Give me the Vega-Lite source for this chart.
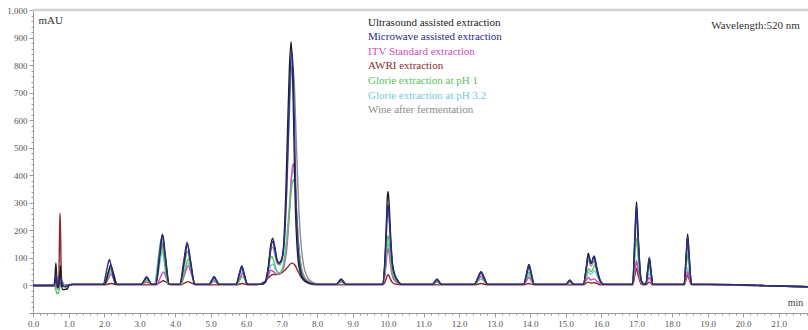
{
"$schema": "https://vega.github.io/schema/vega-lite/v6.json",
"width": 775, "height": 303,
"autosize": {"type": "none"},
"padding": {"left": 33, "top": 10, "right": 0, "bottom": 17},
"background": "white",
"config": {"view": {"stroke": null}},
"datasets": {
"chrom": [
{"k":"W","t":0,"v":0},{"k":"W","t":0.58,"v":0},{"k":"W","t":0.64,"v":15},{"k":"W","t":0.7,"v":0},{"k":"W","t":0.78,"v":12},{"k":"W","t":0.85,"v":0},{"k":"W","t":1.0,"v":2},{"k":"W","t":1.1,"v":4},
{"k":"W","t":1.995,"v":4},{"k":"W","t":2.1,"v":40},{"k":"W","t":2.17,"v":64},{"k":"W","t":2.24,"v":40},{"k":"W","t":2.345,"v":4},
{"k":"W","t":3.05,"v":4},{"k":"W","t":3.14,"v":17},{"k":"W","t":3.2,"v":26},{"k":"W","t":3.26,"v":17},{"k":"W","t":3.35,"v":4},
{"k":"W","t":3.46,"v":4},{"k":"W","t":3.575,"v":94},{"k":"W","t":3.65,"v":154},{"k":"W","t":3.725,"v":94},{"k":"W","t":3.84,"v":4},
{"k":"W","t":4.14,"v":4},{"k":"W","t":4.265,"v":76},{"k":"W","t":4.35,"v":124},{"k":"W","t":4.435,"v":76},{"k":"W","t":4.56,"v":4},
{"k":"W","t":4.96,"v":4},{"k":"W","t":5.045,"v":17},{"k":"W","t":5.1,"v":26},{"k":"W","t":5.155,"v":17},{"k":"W","t":5.24,"v":4},
{"k":"W","t":5.72,"v":4},{"k":"W","t":5.815,"v":37},{"k":"W","t":5.88,"v":59},{"k":"W","t":5.945,"v":37},{"k":"W","t":6.04,"v":4},
{"k":"W","t":6.45,"v":4},{"k":"W","t":6.55,"v":14},{"k":"W","t":6.63,"v":65},{"k":"W","t":6.69,"v":120},{"k":"W","t":6.75,"v":140},{"k":"W","t":6.81,"v":115},{"k":"W","t":6.88,"v":80},{"k":"W","t":6.95,"v":75},{"k":"W","t":7.02,"v":95},{"k":"W","t":7.09,"v":180},{"k":"W","t":7.16,"v":390},{"k":"W","t":7.22,"v":620},{"k":"W","t":7.27,"v":770},{"k":"W","t":7.31,"v":800},{"k":"W","t":7.36,"v":730},{"k":"W","t":7.41,"v":550},{"k":"W","t":7.47,"v":330},{"k":"W","t":7.54,"v":165},{"k":"W","t":7.62,"v":75},{"k":"W","t":7.72,"v":32},{"k":"W","t":7.87,"v":12},{"k":"W","t":8.05,"v":4},
{"k":"W","t":8.54,"v":4},{"k":"W","t":8.625,"v":13},{"k":"W","t":8.68,"v":19},{"k":"W","t":8.735,"v":13},{"k":"W","t":8.82,"v":4},
{"k":"W","t":9.84,"v":4},{"k":"W","t":9.91,"v":72},{"k":"W","t":9.95,"v":171},{"k":"W","t":9.98,"v":255},{"k":"W","t":10.0,"v":274},{"k":"W","t":10.03,"v":242},{"k":"W","t":10.07,"v":153},{"k":"W","t":10.12,"v":72},{"k":"W","t":10.18,"v":36},{"k":"W","t":10.26,"v":18},{"k":"W","t":10.38,"v":4},
{"k":"W","t":11.255,"v":4},{"k":"W","t":11.33,"v":13},{"k":"W","t":11.38,"v":19},{"k":"W","t":11.43,"v":13},{"k":"W","t":11.505,"v":4},
{"k":"W","t":12.43,"v":4},{"k":"W","t":12.545,"v":28},{"k":"W","t":12.62,"v":44},{"k":"W","t":12.695,"v":28},{"k":"W","t":12.81,"v":4},
{"k":"W","t":13.82,"v":4},{"k":"W","t":13.91,"v":40},{"k":"W","t":13.97,"v":64},{"k":"W","t":14.03,"v":40},{"k":"W","t":14.12,"v":4},
{"k":"W","t":15.01,"v":4},{"k":"W","t":15.075,"v":11},{"k":"W","t":15.12,"v":16},{"k":"W","t":15.165,"v":11},{"k":"W","t":15.23,"v":4},
{"k":"W","t":15.5,"v":4},{"k":"W","t":15.59,"v":58},{"k":"W","t":15.64,"v":94},{"k":"W","t":15.72,"v":70},{"k":"W","t":15.81,"v":89},{"k":"W","t":15.88,"v":55},{"k":"W","t":15.98,"v":16},{"k":"W","t":16.08,"v":4},
{"k":"W","t":16.89,"v":4},{"k":"W","t":16.955,"v":154},{"k":"W","t":17.0,"v":254},{"k":"W","t":17.045,"v":154},{"k":"W","t":17.13,"v":17},{"k":"W","t":17.2,"v":6},
{"k":"W","t":17.26,"v":4},{"k":"W","t":17.32,"v":52},{"k":"W","t":17.36,"v":84},{"k":"W","t":17.4,"v":52},{"k":"W","t":17.46,"v":4},
{"k":"W","t":18.34,"v":4},{"k":"W","t":18.4,"v":94},{"k":"W","t":18.44,"v":154},{"k":"W","t":18.48,"v":94},{"k":"W","t":18.55,"v":4},
{"k":"W","t":19.0,"v":4},{"k":"W","t":19.8,"v":3},{"k":"W","t":20.5,"v":0},{"k":"W","t":21.2,"v":-3},{"k":"W","t":21.85,"v":-5},

{"k":"G3","t":0,"v":0},{"k":"G3","t":0.58,"v":0},{"k":"G3","t":0.65,"v":-5},{"k":"G3","t":0.7,"v":-15},{"k":"G3","t":0.76,"v":0},{"k":"G3","t":0.82,"v":8},{"k":"G3","t":0.9,"v":0},{"k":"G3","t":1.0,"v":2},{"k":"G3","t":1.1,"v":4},
{"k":"G3","t":2.005,"v":4},{"k":"G3","t":2.11,"v":31},{"k":"G3","t":2.18,"v":49},{"k":"G3","t":2.25,"v":31},{"k":"G3","t":2.355,"v":4},
{"k":"G3","t":3.05,"v":4},{"k":"G3","t":3.14,"v":13},{"k":"G3","t":3.2,"v":19},{"k":"G3","t":3.26,"v":13},{"k":"G3","t":3.35,"v":4},
{"k":"G3","t":3.45,"v":4},{"k":"G3","t":3.565,"v":76},{"k":"G3","t":3.64,"v":124},{"k":"G3","t":3.715,"v":76},{"k":"G3","t":3.83,"v":4},
{"k":"G3","t":4.15,"v":4},{"k":"G3","t":4.275,"v":51},{"k":"G3","t":4.36,"v":82},{"k":"G3","t":4.445,"v":51},{"k":"G3","t":4.57,"v":4},
{"k":"G3","t":4.96,"v":4},{"k":"G3","t":5.045,"v":13},{"k":"G3","t":5.1,"v":19},{"k":"G3","t":5.155,"v":13},{"k":"G3","t":5.24,"v":4},
{"k":"G3","t":5.73,"v":4},{"k":"G3","t":5.825,"v":31},{"k":"G3","t":5.89,"v":49},{"k":"G3","t":5.955,"v":31},{"k":"G3","t":6.05,"v":4},
{"k":"G3","t":6.45,"v":4},{"k":"G3","t":6.55,"v":14},{"k":"G3","t":6.63,"v":45},{"k":"G3","t":6.7,"v":72},{"k":"G3","t":6.76,"v":78},{"k":"G3","t":6.83,"v":58},{"k":"G3","t":6.92,"v":45},{"k":"G3","t":7.02,"v":60},{"k":"G3","t":7.12,"v":140},{"k":"G3","t":7.21,"v":270},{"k":"G3","t":7.28,"v":390},{"k":"G3","t":7.33,"v":420},{"k":"G3","t":7.37,"v":388},{"k":"G3","t":7.42,"v":270},{"k":"G3","t":7.48,"v":140},{"k":"G3","t":7.55,"v":65},{"k":"G3","t":7.63,"v":30},{"k":"G3","t":7.75,"v":12},{"k":"G3","t":7.95,"v":4},
{"k":"G3","t":8.54,"v":4},{"k":"G3","t":8.625,"v":10},{"k":"G3","t":8.68,"v":14},{"k":"G3","t":8.735,"v":10},{"k":"G3","t":8.82,"v":4},
{"k":"G3","t":9.84,"v":4},{"k":"G3","t":9.91,"v":42},{"k":"G3","t":9.95,"v":97},{"k":"G3","t":9.98,"v":144},{"k":"G3","t":10.0,"v":154},{"k":"G3","t":10.03,"v":136},{"k":"G3","t":10.07,"v":87},{"k":"G3","t":10.12,"v":42},{"k":"G3","t":10.18,"v":22},{"k":"G3","t":10.26,"v":12},{"k":"G3","t":10.38,"v":4},
{"k":"G3","t":11.255,"v":4},{"k":"G3","t":11.33,"v":11},{"k":"G3","t":11.38,"v":16},{"k":"G3","t":11.43,"v":11},{"k":"G3","t":11.505,"v":4},
{"k":"G3","t":12.43,"v":4},{"k":"G3","t":12.545,"v":22},{"k":"G3","t":12.62,"v":34},{"k":"G3","t":12.695,"v":22},{"k":"G3","t":12.81,"v":4},
{"k":"G3","t":13.82,"v":4},{"k":"G3","t":13.91,"v":25},{"k":"G3","t":13.97,"v":39},{"k":"G3","t":14.03,"v":25},{"k":"G3","t":14.12,"v":4},
{"k":"G3","t":15.01,"v":4},{"k":"G3","t":15.075,"v":9},{"k":"G3","t":15.12,"v":12},{"k":"G3","t":15.165,"v":9},{"k":"G3","t":15.23,"v":4},
{"k":"G3","t":15.5,"v":4},{"k":"G3","t":15.59,"v":31},{"k":"G3","t":15.64,"v":49},{"k":"G3","t":15.72,"v":40},{"k":"G3","t":15.82,"v":54},{"k":"G3","t":15.89,"v":34},{"k":"G3","t":15.99,"v":10},{"k":"G3","t":16.08,"v":4},
{"k":"G3","t":16.89,"v":4},{"k":"G3","t":16.955,"v":52},{"k":"G3","t":17.0,"v":84},{"k":"G3","t":17.045,"v":52},{"k":"G3","t":17.13,"v":9},{"k":"G3","t":17.2,"v":5},
{"k":"G3","t":17.26,"v":4},{"k":"G3","t":17.32,"v":28},{"k":"G3","t":17.36,"v":44},{"k":"G3","t":17.4,"v":28},{"k":"G3","t":17.46,"v":4},
{"k":"G3","t":18.34,"v":4},{"k":"G3","t":18.4,"v":40},{"k":"G3","t":18.44,"v":64},{"k":"G3","t":18.48,"v":40},{"k":"G3","t":18.55,"v":4},
{"k":"G3","t":19.0,"v":4},{"k":"G3","t":19.8,"v":3},{"k":"G3","t":20.5,"v":0},{"k":"G3","t":21.2,"v":-3},{"k":"G3","t":21.85,"v":-5},

{"k":"A","t":0,"v":0},{"k":"A","t":0.7,"v":0},{"k":"A","t":0.73,"v":40},{"k":"A","t":0.75,"v":200},{"k":"A","t":0.762,"v":262},{"k":"A","t":0.775,"v":200},{"k":"A","t":0.8,"v":30},{"k":"A","t":0.83,"v":-3},{"k":"A","t":0.88,"v":0},{"k":"A","t":1.0,"v":1},{"k":"A","t":1.1,"v":2},
{"k":"A","t":2.0,"v":2},{"k":"A","t":2.2,"v":7},{"k":"A","t":2.4,"v":2},
{"k":"A","t":3.45,"v":2},{"k":"A","t":3.58,"v":11},{"k":"A","t":3.67,"v":17},{"k":"A","t":3.76,"v":11},{"k":"A","t":3.9,"v":2},
{"k":"A","t":4.15,"v":2},{"k":"A","t":4.28,"v":9},{"k":"A","t":4.37,"v":14},{"k":"A","t":4.46,"v":9},{"k":"A","t":4.6,"v":2},
{"k":"A","t":5.72,"v":2},{"k":"A","t":5.9,"v":7},{"k":"A","t":6.08,"v":2},
{"k":"A","t":6.3,"v":2},{"k":"A","t":6.5,"v":12},{"k":"A","t":6.65,"v":30},{"k":"A","t":6.75,"v":40},{"k":"A","t":6.85,"v":40},{"k":"A","t":6.95,"v":42},{"k":"A","t":7.05,"v":50},{"k":"A","t":7.15,"v":63},{"k":"A","t":7.25,"v":78},{"k":"A","t":7.3,"v":81},{"k":"A","t":7.37,"v":75},{"k":"A","t":7.45,"v":55},{"k":"A","t":7.55,"v":30},{"k":"A","t":7.65,"v":15},{"k":"A","t":7.8,"v":6},{"k":"A","t":8.0,"v":2},
{"k":"A","t":9.84,"v":2},{"k":"A","t":9.91,"v":11},{"k":"A","t":9.95,"v":25},{"k":"A","t":9.98,"v":36},{"k":"A","t":10.0,"v":39},{"k":"A","t":10.03,"v":35},{"k":"A","t":10.07,"v":22},{"k":"A","t":10.12,"v":11},{"k":"A","t":10.18,"v":6},{"k":"A","t":10.26,"v":4},{"k":"A","t":10.38,"v":2},
{"k":"A","t":12.43,"v":2},{"k":"A","t":12.62,"v":7},{"k":"A","t":12.81,"v":2},
{"k":"A","t":13.82,"v":2},{"k":"A","t":13.97,"v":7},{"k":"A","t":14.12,"v":2},
{"k":"A","t":15.5,"v":2},{"k":"A","t":15.64,"v":12},{"k":"A","t":15.72,"v":9},{"k":"A","t":15.81,"v":10},{"k":"A","t":16.0,"v":2},
{"k":"A","t":16.89,"v":2},{"k":"A","t":16.955,"v":38},{"k":"A","t":17.0,"v":62},{"k":"A","t":17.045,"v":38},{"k":"A","t":17.13,"v":5},{"k":"A","t":17.2,"v":2},
{"k":"A","t":17.26,"v":2},{"k":"A","t":17.36,"v":12},{"k":"A","t":17.46,"v":2},
{"k":"A","t":18.34,"v":2},{"k":"A","t":18.4,"v":23},{"k":"A","t":18.44,"v":37},{"k":"A","t":18.48,"v":23},{"k":"A","t":18.55,"v":2},
{"k":"A","t":19.0,"v":2},{"k":"A","t":20.5,"v":-1},{"k":"A","t":21.85,"v":-5},

{"k":"I","t":0,"v":0},{"k":"I","t":0.58,"v":0},{"k":"I","t":0.66,"v":-5},{"k":"I","t":0.7,"v":-10},{"k":"I","t":0.76,"v":5},{"k":"I","t":0.8,"v":10},{"k":"I","t":0.86,"v":0},{"k":"I","t":1.0,"v":2},{"k":"I","t":1.1,"v":4},
{"k":"I","t":2.025,"v":4},{"k":"I","t":2.13,"v":27},{"k":"I","t":2.2,"v":42},{"k":"I","t":2.27,"v":27},{"k":"I","t":2.375,"v":4},
{"k":"I","t":3.05,"v":4},{"k":"I","t":3.14,"v":9},{"k":"I","t":3.2,"v":12},{"k":"I","t":3.26,"v":9},{"k":"I","t":3.35,"v":4},
{"k":"I","t":3.48,"v":4},{"k":"I","t":3.595,"v":31},{"k":"I","t":3.67,"v":49},{"k":"I","t":3.745,"v":31},{"k":"I","t":3.86,"v":4},
{"k":"I","t":4.16,"v":4},{"k":"I","t":4.285,"v":45},{"k":"I","t":4.37,"v":72},{"k":"I","t":4.455,"v":45},{"k":"I","t":4.58,"v":4},
{"k":"I","t":4.96,"v":4},{"k":"I","t":5.045,"v":11},{"k":"I","t":5.1,"v":16},{"k":"I","t":5.155,"v":11},{"k":"I","t":5.24,"v":4},
{"k":"I","t":5.74,"v":4},{"k":"I","t":5.835,"v":28},{"k":"I","t":5.9,"v":44},{"k":"I","t":5.965,"v":28},{"k":"I","t":6.06,"v":4},
{"k":"I","t":6.45,"v":4},{"k":"I","t":6.55,"v":12},{"k":"I","t":6.63,"v":35},{"k":"I","t":6.7,"v":55},{"k":"I","t":6.78,"v":50},{"k":"I","t":6.88,"v":40},{"k":"I","t":6.97,"v":44},{"k":"I","t":7.07,"v":70},{"k":"I","t":7.16,"v":150},{"k":"I","t":7.23,"v":280},{"k":"I","t":7.29,"v":410},{"k":"I","t":7.33,"v":443},{"k":"I","t":7.37,"v":405},{"k":"I","t":7.42,"v":285},{"k":"I","t":7.48,"v":150},{"k":"I","t":7.55,"v":70},{"k":"I","t":7.63,"v":35},{"k":"I","t":7.75,"v":15},{"k":"I","t":7.95,"v":4},
{"k":"I","t":8.54,"v":4},{"k":"I","t":8.625,"v":9},{"k":"I","t":8.68,"v":12},{"k":"I","t":8.735,"v":9},{"k":"I","t":8.82,"v":4},
{"k":"I","t":9.84,"v":4},{"k":"I","t":9.91,"v":36},{"k":"I","t":9.95,"v":84},{"k":"I","t":9.98,"v":124},{"k":"I","t":10.0,"v":133},{"k":"I","t":10.03,"v":118},{"k":"I","t":10.07,"v":75},{"k":"I","t":10.12,"v":36},{"k":"I","t":10.18,"v":19},{"k":"I","t":10.26,"v":10},{"k":"I","t":10.38,"v":4},
{"k":"I","t":11.255,"v":4},{"k":"I","t":11.33,"v":10},{"k":"I","t":11.38,"v":14},{"k":"I","t":11.43,"v":10},{"k":"I","t":11.505,"v":4},
{"k":"I","t":12.43,"v":4},{"k":"I","t":12.545,"v":22},{"k":"I","t":12.62,"v":34},{"k":"I","t":12.695,"v":22},{"k":"I","t":12.81,"v":4},
{"k":"I","t":13.82,"v":4},{"k":"I","t":13.91,"v":19},{"k":"I","t":13.97,"v":29},{"k":"I","t":14.03,"v":19},{"k":"I","t":14.12,"v":4},
{"k":"I","t":15.01,"v":4},{"k":"I","t":15.075,"v":9},{"k":"I","t":15.12,"v":12},{"k":"I","t":15.165,"v":9},{"k":"I","t":15.23,"v":4},
{"k":"I","t":15.5,"v":4},{"k":"I","t":15.59,"v":19},{"k":"I","t":15.64,"v":29},{"k":"I","t":15.72,"v":20},{"k":"I","t":15.81,"v":24},{"k":"I","t":15.88,"v":16},{"k":"I","t":15.98,"v":7},{"k":"I","t":16.08,"v":4},
{"k":"I","t":16.89,"v":4},{"k":"I","t":16.955,"v":56},{"k":"I","t":17.0,"v":90},{"k":"I","t":17.045,"v":56},{"k":"I","t":17.13,"v":9},{"k":"I","t":17.2,"v":5},
{"k":"I","t":17.26,"v":4},{"k":"I","t":17.32,"v":19},{"k":"I","t":17.36,"v":29},{"k":"I","t":17.4,"v":19},{"k":"I","t":17.46,"v":4},
{"k":"I","t":18.34,"v":4},{"k":"I","t":18.4,"v":31},{"k":"I","t":18.44,"v":49},{"k":"I","t":18.48,"v":31},{"k":"I","t":18.55,"v":4},
{"k":"I","t":19.0,"v":4},{"k":"I","t":19.8,"v":3},{"k":"I","t":20.5,"v":0},{"k":"I","t":21.2,"v":-3},{"k":"I","t":21.85,"v":-5},

{"k":"G1","t":0,"v":0},{"k":"G1","t":0.58,"v":0},{"k":"G1","t":0.63,"v":-10},{"k":"G1","t":0.68,"v":-30},{"k":"G1","t":0.72,"v":-25},{"k":"G1","t":0.76,"v":-5},{"k":"G1","t":0.8,"v":10},{"k":"G1","t":0.84,"v":12},{"k":"G1","t":0.88,"v":0},{"k":"G1","t":0.95,"v":-5},{"k":"G1","t":1.02,"v":2},{"k":"G1","t":1.1,"v":4},
{"k":"G1","t":2.025,"v":4},{"k":"G1","t":2.13,"v":41},{"k":"G1","t":2.2,"v":66},{"k":"G1","t":2.27,"v":41},{"k":"G1","t":2.375,"v":4},
{"k":"G1","t":3.05,"v":4},{"k":"G1","t":3.14,"v":13},{"k":"G1","t":3.2,"v":19},{"k":"G1","t":3.26,"v":13},{"k":"G1","t":3.35,"v":4},
{"k":"G1","t":3.42,"v":4},{"k":"G1","t":3.535,"v":103},{"k":"G1","t":3.61,"v":169},{"k":"G1","t":3.685,"v":103},{"k":"G1","t":3.8,"v":4},
{"k":"G1","t":4.16,"v":4},{"k":"G1","t":4.285,"v":59},{"k":"G1","t":4.37,"v":96},{"k":"G1","t":4.455,"v":59},{"k":"G1","t":4.58,"v":4},
{"k":"G1","t":4.96,"v":4},{"k":"G1","t":5.045,"v":15},{"k":"G1","t":5.1,"v":22},{"k":"G1","t":5.155,"v":15},{"k":"G1","t":5.24,"v":4},
{"k":"G1","t":5.74,"v":4},{"k":"G1","t":5.835,"v":22},{"k":"G1","t":5.9,"v":34},{"k":"G1","t":5.965,"v":22},{"k":"G1","t":6.06,"v":4},
{"k":"G1","t":6.45,"v":4},{"k":"G1","t":6.55,"v":15},{"k":"G1","t":6.62,"v":55},{"k":"G1","t":6.68,"v":95},{"k":"G1","t":6.73,"v":105},{"k":"G1","t":6.79,"v":85},{"k":"G1","t":6.87,"v":52},{"k":"G1","t":6.96,"v":45},{"k":"G1","t":7.06,"v":75},{"k":"G1","t":7.15,"v":160},{"k":"G1","t":7.23,"v":280},{"k":"G1","t":7.3,"v":370},{"k":"G1","t":7.34,"v":385},{"k":"G1","t":7.38,"v":355},{"k":"G1","t":7.43,"v":250},{"k":"G1","t":7.49,"v":130},{"k":"G1","t":7.56,"v":60},{"k":"G1","t":7.65,"v":28},{"k":"G1","t":7.78,"v":12},{"k":"G1","t":7.95,"v":4},
{"k":"G1","t":8.54,"v":4},{"k":"G1","t":8.625,"v":10},{"k":"G1","t":8.68,"v":14},{"k":"G1","t":8.735,"v":10},{"k":"G1","t":8.82,"v":4},
{"k":"G1","t":9.84,"v":4},{"k":"G1","t":9.91,"v":48},{"k":"G1","t":9.95,"v":114},{"k":"G1","t":9.98,"v":169},{"k":"G1","t":10.0,"v":181},{"k":"G1","t":10.03,"v":160},{"k":"G1","t":10.07,"v":101},{"k":"G1","t":10.12,"v":48},{"k":"G1","t":10.18,"v":25},{"k":"G1","t":10.26,"v":13},{"k":"G1","t":10.38,"v":4},
{"k":"G1","t":11.255,"v":4},{"k":"G1","t":11.33,"v":10},{"k":"G1","t":11.38,"v":14},{"k":"G1","t":11.43,"v":10},{"k":"G1","t":11.505,"v":4},
{"k":"G1","t":12.43,"v":4},{"k":"G1","t":12.545,"v":16},{"k":"G1","t":12.62,"v":24},{"k":"G1","t":12.695,"v":16},{"k":"G1","t":12.81,"v":4},
{"k":"G1","t":13.82,"v":4},{"k":"G1","t":13.91,"v":31},{"k":"G1","t":13.97,"v":49},{"k":"G1","t":14.03,"v":31},{"k":"G1","t":14.12,"v":4},
{"k":"G1","t":15.01,"v":4},{"k":"G1","t":15.075,"v":9},{"k":"G1","t":15.12,"v":12},{"k":"G1","t":15.165,"v":9},{"k":"G1","t":15.23,"v":4},
{"k":"G1","t":15.5,"v":4},{"k":"G1","t":15.59,"v":38},{"k":"G1","t":15.65,"v":60},{"k":"G1","t":15.73,"v":50},{"k":"G1","t":15.83,"v":74},{"k":"G1","t":15.9,"v":46},{"k":"G1","t":16.0,"v":12},{"k":"G1","t":16.1,"v":4},
{"k":"G1","t":16.89,"v":4},{"k":"G1","t":16.955,"v":105},{"k":"G1","t":17.0,"v":172},{"k":"G1","t":17.045,"v":105},{"k":"G1","t":17.13,"v":14},{"k":"G1","t":17.2,"v":5},
{"k":"G1","t":17.26,"v":4},{"k":"G1","t":17.32,"v":46},{"k":"G1","t":17.36,"v":74},{"k":"G1","t":17.4,"v":46},{"k":"G1","t":17.46,"v":4},
{"k":"G1","t":18.34,"v":4},{"k":"G1","t":18.4,"v":71},{"k":"G1","t":18.44,"v":116},{"k":"G1","t":18.48,"v":71},{"k":"G1","t":18.55,"v":4},
{"k":"G1","t":19.0,"v":4},{"k":"G1","t":19.8,"v":3},{"k":"G1","t":20.5,"v":0},{"k":"G1","t":21.2,"v":-3},{"k":"G1","t":21.85,"v":-5},

{"k":"U","t":0,"v":0},{"k":"U","t":0.3,"v":0},{"k":"U","t":0.58,"v":0},{"k":"U","t":0.62,"v":30},{"k":"U","t":0.645,"v":82},{"k":"U","t":0.67,"v":20},{"k":"U","t":0.7,"v":-8},{"k":"U","t":0.74,"v":10},{"k":"U","t":0.775,"v":72},{"k":"U","t":0.8,"v":5},{"k":"U","t":0.84,"v":-15},{"k":"U","t":0.93,"v":-14},{"k":"U","t":0.98,"v":-10},{"k":"U","t":1.02,"v":2},{"k":"U","t":1.1,"v":4},
{"k":"U","t":2.015,"v":4},{"k":"U","t":2.12,"v":46},{"k":"U","t":2.19,"v":74},{"k":"U","t":2.26,"v":46},{"k":"U","t":2.365,"v":4},
{"k":"U","t":3.05,"v":4},{"k":"U","t":3.14,"v":20},{"k":"U","t":3.2,"v":31},{"k":"U","t":3.26,"v":20},{"k":"U","t":3.35,"v":4},
{"k":"U","t":3.46,"v":4},{"k":"U","t":3.575,"v":113},{"k":"U","t":3.65,"v":186},{"k":"U","t":3.725,"v":113},{"k":"U","t":3.84,"v":4},
{"k":"U","t":4.14,"v":4},{"k":"U","t":4.265,"v":91},{"k":"U","t":4.35,"v":149},{"k":"U","t":4.435,"v":91},{"k":"U","t":4.56,"v":4},
{"k":"U","t":4.96,"v":4},{"k":"U","t":5.045,"v":21},{"k":"U","t":5.1,"v":32},{"k":"U","t":5.155,"v":21},{"k":"U","t":5.24,"v":4},
{"k":"U","t":5.72,"v":4},{"k":"U","t":5.815,"v":43},{"k":"U","t":5.88,"v":69},{"k":"U","t":5.945,"v":43},{"k":"U","t":6.04,"v":4},
{"k":"U","t":6.45,"v":4},{"k":"U","t":6.55,"v":15},{"k":"U","t":6.63,"v":70},{"k":"U","t":6.69,"v":140},{"k":"U","t":6.75,"v":172},{"k":"U","t":6.81,"v":140},{"k":"U","t":6.87,"v":95},{"k":"U","t":6.93,"v":82},{"k":"U","t":6.99,"v":90},{"k":"U","t":7.05,"v":130},{"k":"U","t":7.12,"v":330},{"k":"U","t":7.17,"v":560},{"k":"U","t":7.22,"v":780},{"k":"U","t":7.27,"v":885},{"k":"U","t":7.31,"v":780},{"k":"U","t":7.35,"v":540},{"k":"U","t":7.39,"v":290},{"k":"U","t":7.45,"v":120},{"k":"U","t":7.52,"v":50},{"k":"U","t":7.6,"v":25},{"k":"U","t":7.75,"v":10},{"k":"U","t":7.95,"v":4},
{"k":"U","t":8.54,"v":4},{"k":"U","t":8.625,"v":15},{"k":"U","t":8.68,"v":22},{"k":"U","t":8.735,"v":15},{"k":"U","t":8.82,"v":4},
{"k":"U","t":9.84,"v":4},{"k":"U","t":9.91,"v":88},{"k":"U","t":9.95,"v":213},{"k":"U","t":9.98,"v":317},{"k":"U","t":10.0,"v":341},{"k":"U","t":10.03,"v":301},{"k":"U","t":10.07,"v":189},{"k":"U","t":10.12,"v":88},{"k":"U","t":10.18,"v":44},{"k":"U","t":10.26,"v":21},{"k":"U","t":10.38,"v":4},
{"k":"U","t":11.255,"v":4},{"k":"U","t":11.33,"v":15},{"k":"U","t":11.38,"v":22},{"k":"U","t":11.43,"v":15},{"k":"U","t":11.505,"v":4},
{"k":"U","t":12.43,"v":4},{"k":"U","t":12.545,"v":31},{"k":"U","t":12.62,"v":49},{"k":"U","t":12.695,"v":31},{"k":"U","t":12.81,"v":4},
{"k":"U","t":13.82,"v":4},{"k":"U","t":13.91,"v":46},{"k":"U","t":13.97,"v":74},{"k":"U","t":14.03,"v":46},{"k":"U","t":14.12,"v":4},
{"k":"U","t":15.01,"v":4},{"k":"U","t":15.075,"v":13},{"k":"U","t":15.12,"v":19},{"k":"U","t":15.165,"v":13},{"k":"U","t":15.23,"v":4},
{"k":"U","t":15.5,"v":4},{"k":"U","t":15.59,"v":72},{"k":"U","t":15.64,"v":117},{"k":"U","t":15.72,"v":80},{"k":"U","t":15.8,"v":105},{"k":"U","t":15.87,"v":65},{"k":"U","t":15.97,"v":18},{"k":"U","t":16.08,"v":4},
{"k":"U","t":16.89,"v":4},{"k":"U","t":16.955,"v":184},{"k":"U","t":17.0,"v":304},{"k":"U","t":17.045,"v":184},{"k":"U","t":17.13,"v":20},{"k":"U","t":17.2,"v":6},
{"k":"U","t":17.26,"v":4},{"k":"U","t":17.32,"v":61},{"k":"U","t":17.36,"v":99},{"k":"U","t":17.4,"v":61},{"k":"U","t":17.46,"v":4},
{"k":"U","t":18.34,"v":4},{"k":"U","t":18.4,"v":114},{"k":"U","t":18.44,"v":187},{"k":"U","t":18.48,"v":114},{"k":"U","t":18.55,"v":4},
{"k":"U","t":19.0,"v":4},{"k":"U","t":19.8,"v":3},{"k":"U","t":20.5,"v":0},{"k":"U","t":21.2,"v":-3},{"k":"U","t":21.85,"v":-5},

{"k":"M","t":0,"v":0},{"k":"M","t":0.58,"v":0},{"k":"M","t":0.63,"v":10},{"k":"M","t":0.66,"v":40},{"k":"M","t":0.69,"v":0},{"k":"M","t":0.74,"v":15},{"k":"M","t":0.79,"v":28},{"k":"M","t":0.84,"v":0},{"k":"M","t":0.9,"v":-5},{"k":"M","t":1.0,"v":0},{"k":"M","t":1.1,"v":4},
{"k":"M","t":1.975,"v":4},{"k":"M","t":2.08,"v":58},{"k":"M","t":2.15,"v":94},{"k":"M","t":2.22,"v":58},{"k":"M","t":2.325,"v":4},
{"k":"M","t":3.05,"v":4},{"k":"M","t":3.14,"v":20},{"k":"M","t":3.2,"v":31},{"k":"M","t":3.26,"v":20},{"k":"M","t":3.35,"v":4},
{"k":"M","t":3.45,"v":4},{"k":"M","t":3.565,"v":112},{"k":"M","t":3.64,"v":184},{"k":"M","t":3.715,"v":112},{"k":"M","t":3.83,"v":4},
{"k":"M","t":4.13,"v":4},{"k":"M","t":4.255,"v":96},{"k":"M","t":4.34,"v":157},{"k":"M","t":4.425,"v":96},{"k":"M","t":4.55,"v":4},
{"k":"M","t":4.96,"v":4},{"k":"M","t":5.045,"v":21},{"k":"M","t":5.1,"v":32},{"k":"M","t":5.155,"v":21},{"k":"M","t":5.24,"v":4},
{"k":"M","t":5.72,"v":4},{"k":"M","t":5.815,"v":44},{"k":"M","t":5.88,"v":71},{"k":"M","t":5.945,"v":44},{"k":"M","t":6.04,"v":4},
{"k":"M","t":6.45,"v":4},{"k":"M","t":6.55,"v":12},{"k":"M","t":6.63,"v":60},{"k":"M","t":6.69,"v":128},{"k":"M","t":6.75,"v":160},{"k":"M","t":6.81,"v":132},{"k":"M","t":6.87,"v":92},{"k":"M","t":6.93,"v":80},{"k":"M","t":7.0,"v":92},{"k":"M","t":7.07,"v":150},{"k":"M","t":7.14,"v":330},{"k":"M","t":7.2,"v":580},{"k":"M","t":7.25,"v":790},{"k":"M","t":7.29,"v":850},{"k":"M","t":7.33,"v":770},{"k":"M","t":7.37,"v":540},{"k":"M","t":7.41,"v":300},{"k":"M","t":7.47,"v":130},{"k":"M","t":7.54,"v":55},{"k":"M","t":7.62,"v":25},{"k":"M","t":7.78,"v":10},{"k":"M","t":7.95,"v":4},
{"k":"M","t":8.54,"v":4},{"k":"M","t":8.625,"v":16},{"k":"M","t":8.68,"v":24},{"k":"M","t":8.735,"v":16},{"k":"M","t":8.82,"v":4},
{"k":"M","t":9.84,"v":4},{"k":"M","t":9.91,"v":77},{"k":"M","t":9.95,"v":184},{"k":"M","t":9.98,"v":274},{"k":"M","t":10.0,"v":294},{"k":"M","t":10.03,"v":259},{"k":"M","t":10.07,"v":164},{"k":"M","t":10.12,"v":77},{"k":"M","t":10.18,"v":39},{"k":"M","t":10.26,"v":19},{"k":"M","t":10.38,"v":4},
{"k":"M","t":11.255,"v":4},{"k":"M","t":11.33,"v":16},{"k":"M","t":11.38,"v":24},{"k":"M","t":11.43,"v":16},{"k":"M","t":11.505,"v":4},
{"k":"M","t":12.43,"v":4},{"k":"M","t":12.545,"v":32},{"k":"M","t":12.62,"v":51},{"k":"M","t":12.695,"v":32},{"k":"M","t":12.81,"v":4},
{"k":"M","t":13.82,"v":4},{"k":"M","t":13.91,"v":47},{"k":"M","t":13.97,"v":76},{"k":"M","t":14.03,"v":47},{"k":"M","t":14.12,"v":4},
{"k":"M","t":15.01,"v":4},{"k":"M","t":15.075,"v":13},{"k":"M","t":15.12,"v":19},{"k":"M","t":15.165,"v":13},{"k":"M","t":15.23,"v":4},
{"k":"M","t":15.5,"v":4},{"k":"M","t":15.59,"v":66},{"k":"M","t":15.64,"v":109},{"k":"M","t":15.72,"v":80},{"k":"M","t":15.81,"v":107},{"k":"M","t":15.88,"v":66},{"k":"M","t":15.98,"v":18},{"k":"M","t":16.08,"v":4},
{"k":"M","t":16.89,"v":4},{"k":"M","t":16.955,"v":175},{"k":"M","t":17.0,"v":289},{"k":"M","t":17.045,"v":175},{"k":"M","t":17.13,"v":19},{"k":"M","t":17.2,"v":6},
{"k":"M","t":17.26,"v":4},{"k":"M","t":17.32,"v":63},{"k":"M","t":17.36,"v":102},{"k":"M","t":17.4,"v":63},{"k":"M","t":17.46,"v":4},
{"k":"M","t":18.34,"v":4},{"k":"M","t":18.4,"v":109},{"k":"M","t":18.44,"v":179},{"k":"M","t":18.48,"v":109},{"k":"M","t":18.55,"v":4},
{"k":"M","t":19.0,"v":4},{"k":"M","t":19.8,"v":3},{"k":"M","t":20.5,"v":0},{"k":"M","t":21.2,"v":-3},{"k":"M","t":21.85,"v":-5}
]
},
"layer": [
{
"data": {"values": [{}]},
"mark": {"type": "rule", "color": "#d2d2d2", "strokeWidth": 2.5},
"encoding": {"y": {"datum": 1000, "type": "quantitative"}}
},
{
"data": {"name": "chrom"},
"mark": {"type": "line", "interpolate": "monotone", "strokeWidth": 1.4, "clip": true},
"encoding": {
"x": {"field": "t", "type": "quantitative",
"scale": {"domain": [0, 21.83], "nice": false, "zero": false},
"axis": {"title": "min", "titleX": 762, "titleY": -8, "titleAlign": "center", "titleBaseline": "alphabetic",
"titleFont": "Liberation Serif, Times New Roman, serif", "titleFontSize": 10, "titleFontWeight": "normal", "titleColor": "#444",
"tickCount": 1000,
"values": [0,0.2,0.4,0.6,0.8,1,1.2,1.4,1.6,1.8,2,2.2,2.4,2.6,2.8,3,3.2,3.4,3.6,3.8,4,4.2,4.4,4.6,4.8,5,5.2,5.4,5.6,5.8,6,6.2,6.4,6.6,6.8,7,7.2,7.4,7.6,7.8,8,8.2,8.4,8.6,8.8,9,9.2,9.4,9.6,9.8,10,10.2,10.4,10.6,10.8,11,11.2,11.4,11.6,11.8,12,12.2,12.4,12.6,12.8,13,13.2,13.4,13.6,13.8,14,14.2,14.4,14.6,14.8,15,15.2,15.4,15.6,15.8,16,16.2,16.4,16.6,16.8,17,17.2,17.4,17.6,17.8,18,18.2,18.4,18.6,18.8,19,19.2,19.4,19.6,19.8,20,20.2,20.4,20.6,20.8,21,21.2,21.4,21.6,21.8],
"labelExpr": "abs(datum.value - round(datum.value)) < 0.01 ? format(datum.value, '.1f') : ''",
"labelFont": "Liberation Serif, Times New Roman, serif", "labelFontSize": 9, "labelColor": "#555", "labelPadding": 2,
"labelOverlap": false, "labelFlush": false,
"domainColor": "#9a9a9a", "tickColor": "#9a9a9a", "grid": false,
"tickSize": {"condition": {"test": "abs(datum.value - round(datum.value)) < 0.01", "value": 4}, "value": 2}}},
"y": {"field": "v", "type": "quantitative",
"scale": {"domain": [-100, 1000], "nice": false, "zero": false},
"axis": {"title": "mAU", "titleAngle": 0, "titleX": 5, "titleY": 13, "titleAlign": "left", "titleBaseline": "alphabetic",
"titleFont": "Liberation Serif, Times New Roman, serif", "titleFontSize": 11, "titleFontWeight": "normal", "titleColor": "#333",
"tickCount": 1000,
"values": [-100,-80,-60,-40,-20,0,20,40,60,80,100,120,140,160,180,200,220,240,260,280,300,320,340,360,380,400,420,440,460,480,500,520,540,560,580,600,620,640,660,680,700,720,740,760,780,800,820,840,860,880,900,920,940,960,980,1000],
"labelExpr": "datum.value % 100 === 0 && datum.value >= 0 ? format(datum.value, ',') : ''",
"labelFont": "Liberation Serif, Times New Roman, serif", "labelFontSize": 9, "labelColor": "#555", "labelPadding": 2,
"labelOverlap": false, "labelFlush": false,
"domainColor": "#9a9a9a", "tickColor": "#9a9a9a", "grid": false,
"tickSize": {"condition": {"test": "datum.value % 100 === 0", "value": 4}, "value": 2}}},
"color": {"field": "k", "type": "nominal",
"scale": {"domain": ["U","M","I","A","G1","G3","W"],
"range": ["#1c1c1c","#2c2c8c","#d24cb6","#8b2a2a","#5cc05c","#74c8e0","#8c8c8c"]},
"legend": {"orient": "none", "legendX": 324, "legendY": 7, "title": null,
"symbolSize": 0, "symbolStrokeWidth": 0, "symbolOpacity": 0, "labelOffset": 0,
"labelFont": "Liberation Serif, Times New Roman, serif", "labelFontSize": 11, "rowPadding": 2.6,
"labelExpr": "datum.label === 'U' ? 'Ultrasound assisted extraction' : datum.label === 'M' ? 'Microwave assisted extraction' : datum.label === 'I' ? 'ITV Standard extraction' : datum.label === 'A' ? 'AWRI extraction' : datum.label === 'G1' ? 'Glorie extraction at pH 1' : datum.label === 'G3' ? 'Glorie extraction at pH 3.2' : 'Wine after fermentation'",
"encode": {"labels": {"update": {"fill": {"scale": "color", "field": "value"}}}}}}
}
},
{
"data": {"values": [{}]},
"mark": {"type": "text", "align": "right", "baseline": "alphabetic", "font": "Liberation Serif, Times New Roman, serif", "fontSize": 11, "color": "#333"},
"encoding": {"x": {"datum": 21.6, "type": "quantitative"}, "y": {"datum": 932, "type": "quantitative"}, "text": {"value": "Wavelength:520 nm"}}
}
]
}
